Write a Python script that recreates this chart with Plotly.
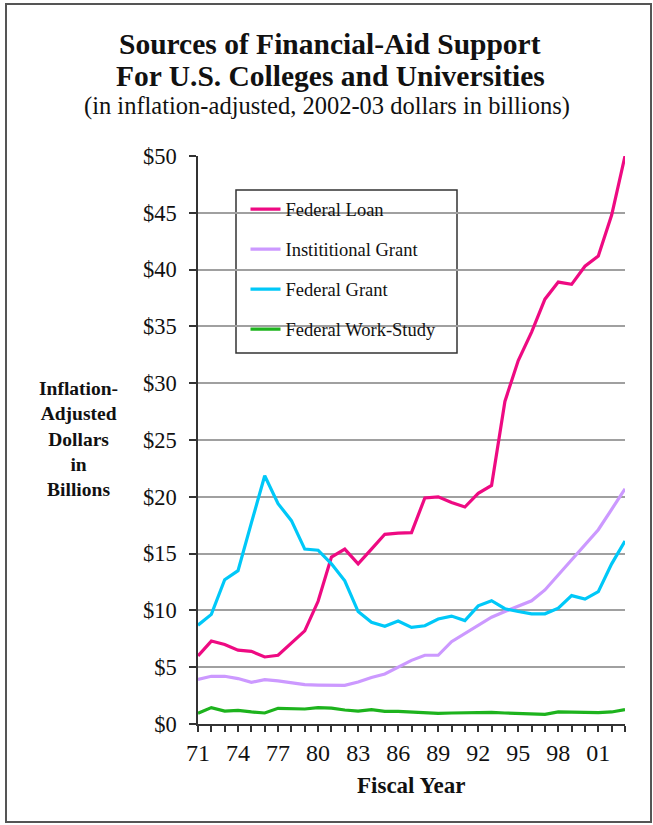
import plotly.graph_objects as go

# Fiscal years 1971-2003 and the four aid sources (billions, 2002-03 dollars)
years = list(range(1971, 2004))
federal_loan = [6.0, 7.3, 7.0, 6.5, 6.4, 5.9, 6.05, 7.1, 8.2, 10.8, 14.7, 15.4, 14.1,
                15.4, 16.7, 16.8, 16.85, 19.9, 20.0, 19.5, 19.1, 20.3, 21.0, 28.4, 32.0,
                34.5, 37.4, 38.9, 38.7, 40.3, 41.2, 44.8, 50.0]
institutional_grant = [3.93, 4.2, 4.2, 4.0, 3.67, 3.9, 3.8, 3.6, 3.46, 3.43, 3.43, 3.4,
                       3.7, 4.1, 4.4, 5.0, 5.6, 6.05, 6.05, 7.25, 7.98, 8.7, 9.4, 9.9,
                       10.4, 10.85, 11.8, 13.1, 14.4, 15.75, 17.1, 18.9, 20.7]
federal_grant = [8.7, 9.65, 12.7, 13.5, 17.7, 21.85, 19.4, 17.9, 15.4, 15.3, 14.1, 12.6,
                 9.9, 8.95, 8.6, 9.07, 8.5, 8.65, 9.24, 9.5, 9.1, 10.4, 10.85, 10.15,
                 9.9, 9.7, 9.7, 10.2, 11.3, 11.0, 11.65, 14.1, 16.1]
work_study = [0.94, 1.44, 1.14, 1.2, 1.06, 0.97, 1.38, 1.38, 1.32, 1.44, 1.4, 1.23, 1.14,
              1.26, 1.11, 1.11, 1.06, 1.03, 0.94, 0.97, 1.0, 1.03, 1.03, 0.97, 0.91,
              0.91, 0.85, 1.06, 1.03, 1.0, 1.0, 1.06, 1.26]

series_names = ["Federal Loan", "Instititional Grant", "Federal Grant", "Federal Work-Study"]
series_values = [federal_loan, institutional_grant, federal_grant, work_study]
series_colors = ["#EE0A82", "#CC99FF", "#00C8F8", "#1DB31D"]

x_tickvals = [1971, 1974, 1977, 1980, 1983, 1986, 1989, 1992, 1995, 1998, 2001]
x_ticktext = ["71", "74", "77", "80", "83", "86", "89", "92", "95", "98", "01"]
y_tickvals = list(range(0, 55, 5))
y_ticktext = ["$%d" % v for v in y_tickvals]

W, H = 653, 825
ML, MR, MT, MB = 198, 28, 156, 101
PW, PH = W - ML - MR, H - MT - MB
SERIF = "Liberation Serif"


def px(xp):
    return (xp - ML) / PW


def py(yp):
    return (H - MB - yp) / PH


fig = go.Figure()
for i, (name, vals, col) in enumerate(zip(series_names, series_values, series_colors)):
    fig.add_trace(go.Scatter(
        x=years, y=vals, name=name, mode="lines",
        line=dict(color=col, width=3.2),
        legendgroup="g%d" % i, cliponaxis=False,
    ))

annotations = [
    dict(text="<b>Sources of Financial-Aid Support</b>", x=px(330), y=py(44.5),
         font=dict(size=29.5)),
    dict(text="<b>For U.S. Colleges and Universities</b>", x=px(330), y=py(75.5),
         font=dict(size=29.5)),
    dict(text="(in inflation-adjusted, 2002-03 dollars in billions)", x=px(327), y=py(106),
         font=dict(size=24.5)),
    dict(text="<b>Fiscal Year</b>", x=px(411), y=py(785), font=dict(size=23)),
    dict(text="<b>Inflation-<br>Adjusted<br>Dollars<br>in<br>Billions</b>",
         x=px(78), y=py(438.5), font=dict(size=19.5)),
]
for a in annotations:
    a.update(xref="paper", yref="paper", showarrow=False,
             xanchor="center", yanchor="middle", align="center")
    a["font"].update(family=SERIF, color="#111")

shapes = [
    # outer frame
    dict(type="rect", xref="paper", yref="paper", x0=px(6), x1=px(651), y0=py(4), y1=py(822),
         line=dict(color="#555", width=2), fillcolor="rgba(0,0,0,0)", layer="above"),
    # legend box
    dict(type="rect", xref="paper", yref="paper", x0=px(236), x1=px(457), y0=py(190), y1=py(353),
         line=dict(color="#333", width=1.5), fillcolor="white", layer="between"),
]

fig.update_layout(
    width=W, height=H,
    margin=dict(l=ML, r=MR, t=MT, b=MB, pad=0),
    paper_bgcolor="white", plot_bgcolor="white",
    font=dict(family=SERIF, color="#111"),
    showlegend=True,
    legend=dict(x=px(245.5), y=py(190.5), xanchor="left", yanchor="top",
                bgcolor="rgba(0,0,0,0)", borderwidth=0,
                font=dict(family=SERIF, size=18.5, color="#111"),
                tracegroupgap=13, itemwidth=30),
    annotations=annotations,
    shapes=shapes,
)
fig.update_xaxes(
    range=[1971, 2003], tickvals=x_tickvals, ticktext=x_ticktext,
    ticks="outside", ticklen=6, tickcolor="#333", tickwidth=1.5,
    minor=dict(tick0=1971, dtick=1, ticks="outside", ticklen=6, tickcolor="#333", tickwidth=1.5),
    showline=True, linecolor="#333", linewidth=1.5, showgrid=False, zeroline=False,
    tickfont=dict(family=SERIF, size=24, color="#111"),
)
fig.update_yaxes(
    range=[0, 50], tickvals=y_tickvals, ticktext=y_ticktext,
    ticks="outside", ticklen=7, tickcolor="#333", tickwidth=1.5,
    showline=True, linecolor="#333", linewidth=1.5,
    showgrid=True, gridcolor="#A0A0A0", gridwidth=1.5, zeroline=False,
    tickfont=dict(family=SERIF, size=22.5, color="#111"), ticklabelstandoff=8,
)

fig.write_html("out.html")
